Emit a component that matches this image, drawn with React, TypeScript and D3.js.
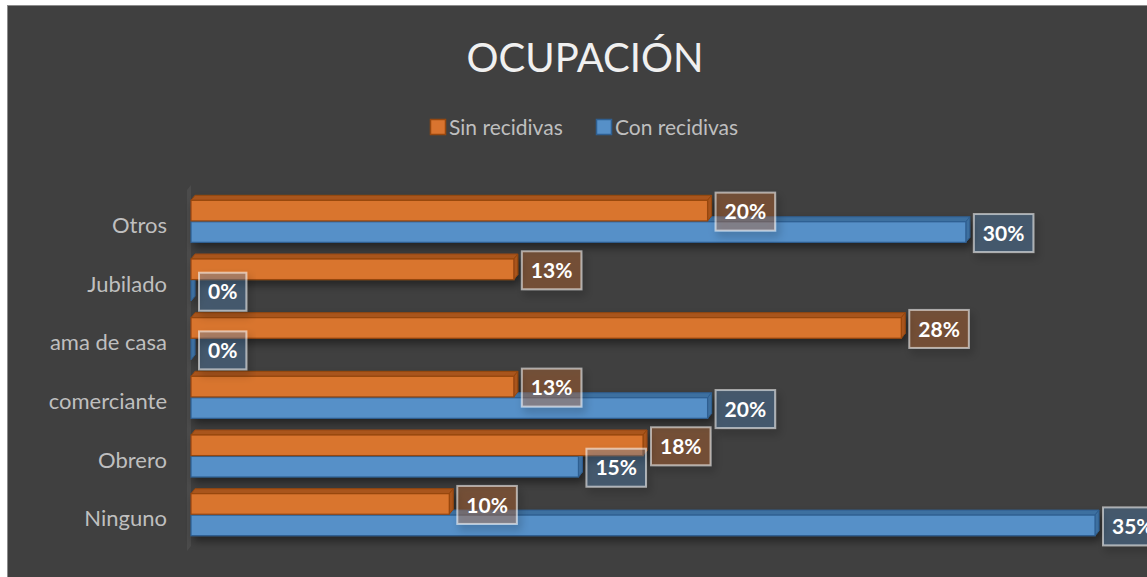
import React, { useEffect, useRef } from 'react';
import * as d3 from 'd3';

// occupation categories, top to bottom
const categories = ['Otros', 'Jubilado', 'ama de casa', 'comerciante', 'Obrero', 'Ninguno'];
const seriesNames = ['Sin recidivas', 'Con recidivas'];
// percent values
const sinRecidivas = [20, 12.5, 27.5, 12.5, 17.5, 10];
const conRecidivas = [30, 0, 0, 20, 15, 35];

const App = () => {
  const svgRef = useRef<SVGSVGElement>(null);

  const width = 1147;
  const height = 577;
  const font = 'Lato, "Open Sans", sans-serif';

  useEffect(() => {
    const svg = d3.select(svgRef.current);
    svg.selectAll('*').remove();

    const defs = svg.append('defs');
    const sh = defs.append('filter').attr('id', 'shadow')
      .attr('x', '-20%').attr('y', '-50%').attr('width', '140%').attr('height', '250%');
    sh.append('feDropShadow').attr('dx', 3).attr('dy', 5).attr('stdDeviation', 4)
      .attr('flood-color', '#000').attr('flood-opacity', 0.45);

    svg.append('rect').attr('width', width).attr('height', height).attr('fill', '#fff');
    svg.append('rect')
      .attr('x', 7.5).attr('y', 5.5).attr('width', width + 20).attr('height', height + 20)
      .attr('fill', '#404040').attr('stroke', '#8c8c8c').attr('stroke-width', 1);

    // title
    svg.append('text')
      .attr('x', 585).attr('y', 72)
      .attr('text-anchor', 'middle')
      .attr('font-family', font).attr('font-size', 40)
      .attr('fill', '#f0f0f0')
      .text('OCUPACIÓN');

    const colors = {
      'Sin recidivas': { face: '#D9742F', top: '#A9541C', edge: '#96470F' },
      'Con recidivas': { face: '#5690C8', top: '#3E6FA0', edge: '#2F5F91' },
    };

    // legend
    const legendX = [430, 596];
    seriesNames.forEach((s, i) => {
      const g = svg.append('g').attr('transform', `translate(${legendX[i]},119)`);
      g.append('rect').attr('x', 0.5).attr('y', 0.5).attr('width', 15).attr('height', 15)
        .attr('fill', colors[s].face).attr('stroke', colors[s].edge).attr('stroke-width', 1.5);
      g.append('text').attr('x', 19).attr('y', 15.5)
        .attr('font-family', font).attr('font-size', 21).attr('fill', '#bfbfbf')
        .text(s);
    });

    const x = d3.scaleLinear().domain([0, 35]).range([191, 1095]);
    const y = d3.scaleBand().domain(categories).range([196, 548]);
    const ySub = d3.scaleBand().domain(seriesNames).range([-25, 17]).paddingInner(0.04);

    const dx = 4;
    const dy = 5;

    // back wall
    svg.append('polygon')
      .attr('points', [[x(0) - 4, 190], [x(0), 185], [x(0), 546], [x(0) - 4, 551]].map(p => p.join(',')).join(' '))
      .attr('fill', '#4b4b4b');

    // y axis labels
    svg.append('g')
      .selectAll('text')
      .data(categories)
      .join('text')
      .attr('x', 167)
      .attr('y', d => y(d) + y.bandwidth() / 2)
      .attr('dy', '0.35em')
      .attr('text-anchor', 'end')
      .attr('font-family', font).attr('font-size', 22)
      .attr('fill', '#bfbfbf')
      .text(d => d);

    const bars = [
      ...categories.map((c, i) => ({ cat: c, s: 'Con recidivas', v: conRecidivas[i] })),
      ...categories.map((c, i) => ({ cat: c, s: 'Sin recidivas', v: sinRecidivas[i] })),
    ];

    const barG = svg.append('g').attr('filter', 'url(#shadow)');
    bars.forEach(d => {
      const x0 = x(0);
      const x1 = x(d.v);
      const t = y(d.cat) + y.bandwidth() / 2 + ySub(d.s);
      const h = ySub.bandwidth();
      const col = colors[d.s];
      const g = barG.append('g');
      g.append('polygon')
        .attr('points', [[x0, t], [x0 + dx, t - dy], [x1 + dx, t - dy], [x1, t]].map(p => p.join(',')).join(' '))
        .attr('fill', col.top).attr('stroke', col.edge).attr('stroke-width', 1);
      g.append('polygon')
        .attr('points', [[x1, t], [x1 + dx, t - dy], [x1 + dx, t + h - dy], [x1, t + h]].map(p => p.join(',')).join(' '))
        .attr('fill', col.top).attr('stroke', col.edge).attr('stroke-width', 1);
      if (x1 > x0) {
        g.append('rect')
          .attr('x', x0).attr('y', t).attr('width', x1 - x0).attr('height', h)
          .attr('fill', col.face).attr('stroke', col.edge).attr('stroke-width', 1.2);
      }
    });

    // data labels
    const labelG = svg.append('g');
    bars.forEach(d => {
      const x1 = x(d.v);
      const t = y(d.cat) + y.bandwidth() / 2 + ySub(d.s);
      const cy = t + ySub.bandwidth() / 2 + 1;
      const g = labelG.append('g');
      const box = g.append('rect');
      const txt = g.append('text')
        .attr('font-family', font).attr('font-size', 21).attr('font-weight', 700)
        .attr('fill', '#ffffff')
        .attr('text-anchor', 'middle')
        .attr('dy', '0.36em')
        .text(`${Math.round(d.v)}%`);
      const tw = (txt.node() as SVGTextElement).getComputedTextLength();
      const bw = tw + 18;
      const bx = x1 + dx + 4;
      box.attr('x', bx).attr('y', cy - 19).attr('width', bw).attr('height', 38)
        .attr('fill', colors[d.s].face).attr('fill-opacity', 0.3)
        .attr('stroke', '#ffffff').attr('stroke-opacity', 0.55).attr('stroke-width', 2)
        .attr('filter', 'url(#shadow)');
      txt.attr('x', bx + bw / 2).attr('y', cy);
    });
  }, []);

  return (
    <div style={{ position: 'absolute', left: 0, top: 0 }}>
      <svg ref={svgRef} width={width} height={height} style={{ display: 'block' }}></svg>
    </div>
  );
};

export default App;
